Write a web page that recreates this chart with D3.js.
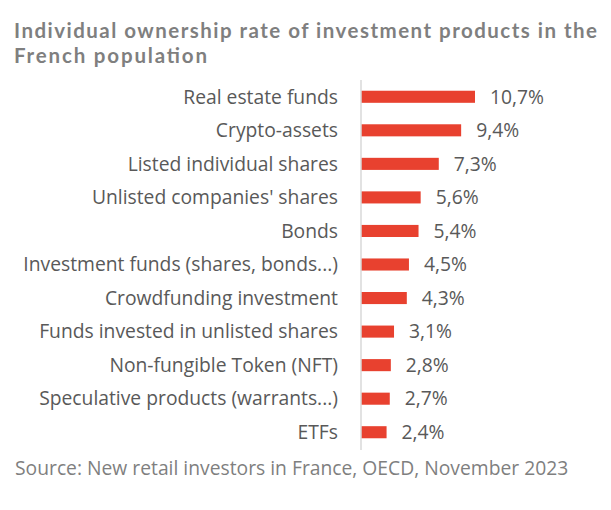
<!DOCTYPE html>
<html><head><meta charset="utf-8">
<script src="https://cdn.jsdelivr.net/npm/d3@7"></script>
<style>body{margin:0;background:#fff;}svg{display:block;}</style>
</head><body>
<svg id="c" width="611" height="510"></svg>
<script>
const categories = ["Real estate funds","Crypto-assets","Listed individual shares ","Unlisted companies' shares","Bonds","Investment funds (shares, bonds...)","Crowdfunding investment","Funds invested in unlisted shares","Non-fungible Token (NFT)","Speculative products (warrants...)","ETFs"];
const values = [10.7,9.4,7.3,5.6,5.4,4.5,4.3,3.1,2.8,2.7,2.4];
const valueLabels = ["10,7%","9,4%","7,3%","5,6%","5,4%","4,5%","4,3%","3,1%","2,8%","2,7%","2,4%"];
const titleLines = ["Individual ownership rate of investment products in the","French population"];
const source = "Source: New retail investors in France, OECD, November 2023";

const font = "'Open Sans', sans-serif";
const svg = d3.select("#c");
const x0 = 361;
const x = d3.scaleLinear().domain([0, 10.7]).range([x0, 475]);
const y = d3.scaleBand().domain(categories).range([80, 449]).paddingInner(0.64).paddingOuter(0.32);

svg.selectAll("text.title").data(titleLines).join("text")
  .attr("x", 14).attr("y", (d,i)=>38+i*25)
  .attr("font-family", "Lato, sans-serif").attr("font-weight", "bold").attr("font-size", 20.5)
  .attr("fill", "#7f7f7f").attr("textLength", (d,i)=> i===0 ? 583 : 193)
  .text(d=>d);

svg.selectAll("rect.bar").data(values).join("rect")
  .attr("x", x(0)).attr("y", (d,i)=>y(categories[i]))
  .attr("width", d=>x(d)-x(0)).attr("height", y.bandwidth())
  .attr("fill", "#e8412f");

svg.append("line").attr("x1", x0).attr("x2", x0).attr("y1", 80).attr("y2", 450)
  .attr("stroke", "#d9d9d9").attr("stroke-width", 1.5);

svg.selectAll("text.cat").data(categories).join("text")
  .attr("x", 338).attr("y", d=>y(d)+y.bandwidth()/2).attr("dy", "0.35em")
  .attr("text-anchor", "end").attr("font-family", font).attr("font-size", 19.3)
  .attr("fill", "#595959").text(d=>d);

svg.selectAll("text.val").data(values).join("text")
  .attr("x", d=>x(d)+15).attr("y", (d,i)=>y(categories[i])+y.bandwidth()/2).attr("dy", "0.35em")
  .attr("font-family", font).attr("font-size", 19.3)
  .attr("fill", "#595959").text((d,i)=>valueLabels[i]);

svg.append("text").attr("x", 15).attr("y", 475)
  .attr("font-family", font).attr("font-size", 19.3)
  .attr("fill", "#7f7f7f").text(source);
</script>
</body></html>
